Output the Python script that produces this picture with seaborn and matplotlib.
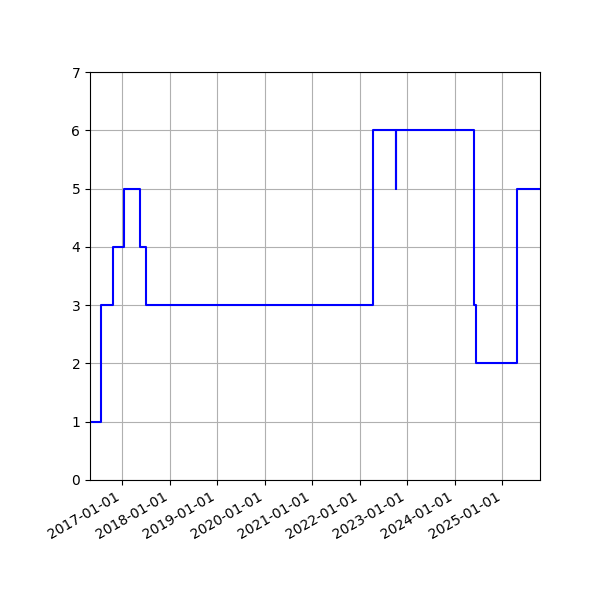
import matplotlib
matplotlib.use("Agg")
import matplotlib.pyplot as plt
import matplotlib.dates as mdates
import seaborn as sns
import pandas as pd

dates = ["2016-04-30", "2016-07-26", "2016-10-24", "2017-01-19", "2017-05-22",
         "2017-07-07", "2022-04-14", "2022-10-03", "2022-10-05", "2024-05-27",
         "2024-06-10", "2025-04-20", "2025-10-17"]
values = [1, 3, 4, 5, 4, 3, 6, 5, 6, 3, 2, 5, 5]

df = pd.DataFrame({"date": pd.to_datetime(dates), "value": values})

fig, ax = plt.subplots(figsize=(6, 6), dpi=100)
sns.lineplot(data=df, x="date", y="value", ax=ax, color="blue",
             drawstyle="steps-post", linewidth=1.5, sort=False, estimator=None)
ax.set_xlim(df["date"].min(), df["date"].max())
ax.set_ylim(0, 7)
ax.set_yticks(range(0, 8))
ax.xaxis.set_major_locator(mdates.YearLocator())
ax.xaxis.set_major_formatter(mdates.DateFormatter("%Y-%m-%d"))
ax.grid(True, color="#b0b0b0", linewidth=0.8)
ax.set_xlabel("")
ax.set_ylabel("")
fig.autofmt_xdate()
fig.subplots_adjust(left=0.15, right=0.9, top=0.88, bottom=0.2)
fig.savefig("out.png", dpi=100)
